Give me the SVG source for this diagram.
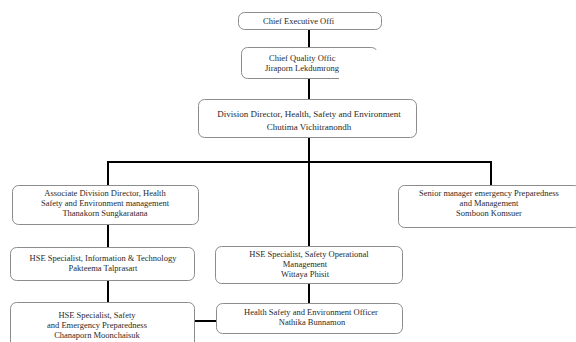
<svg xmlns="http://www.w3.org/2000/svg" width="576" height="342" viewBox="0 0 576 342">
<style>
.box{fill:#fff;stroke:#8c8c8c;stroke-width:1}
.t{font-family:"Liberation Serif","Times New Roman",serif;font-size:8.5px;fill:#2a2a2a;text-anchor:middle}
.ts{font-family:"Liberation Serif","Times New Roman",serif;font-size:8.5px;fill:#2a2a2a}
.c{stroke:#000;stroke-width:2;fill:none}
</style>
<rect width="576" height="342" fill="#fff"/>
<g id="connectors">
<line class="c" x1="309" y1="29" x2="309" y2="47"/>
<line class="c" x1="309" y1="78" x2="309" y2="99"/>
<line class="c" x1="309" y1="138" x2="309" y2="246"/>
<polyline class="c" points="108,185 108,162 491,162 491,185"/>
<line class="c" x1="108" y1="224" x2="108" y2="247"/>
<line class="c" x1="108" y1="280" x2="108" y2="302"/>
<line class="c" x1="309" y1="283" x2="309" y2="303"/>
<line class="c" x1="194" y1="321" x2="216" y2="321"/>
</g>
<g id="ceo">
<rect class="box" x="238.5" y="12.5" width="143" height="17" rx="6"/>
<text class="ts" x="263" y="24">Chief Executive Offi</text>
</g>
<g id="cqo">
<rect class="box" x="241.5" y="47.5" width="136" height="31" rx="6"/>
<text class="ts" x="269" y="61">Chief Quality Offic</text>
<text class="ts" x="265" y="71">Jiraporn Lekdumrong</text>
<rect x="339" y="50" width="44" height="36" fill="#fff"/>
</g>
<g id="division">
<rect class="box" x="198.5" y="99.5" width="218" height="38" rx="6"/>
<text class="t" x="309" y="117" style="font-size:9px">Division Director, Health, Safety and Environment</text>
<text class="t" x="309" y="130" style="font-size:9px">Chutima Vichitranondh</text>
</g>
<g id="associate">
<rect class="box" x="12.5" y="185.5" width="186" height="39" rx="6"/>
<text class="t" x="105" y="195.5">Associate Division Director, Health</text>
<text class="t" x="105" y="205.5">Safety and Environment management</text>
<text class="t" x="105" y="215.5">Thanakorn Sungkaratana</text>
</g>
<g id="senior">
<rect class="box" x="398.5" y="185.5" width="182" height="42" rx="6"/>
<text class="t" x="489" y="196">Senior manager emergency Preparedness</text>
<text class="t" x="489" y="206">and Management</text>
<text class="t" x="489" y="216">Somboon Komsuer</text>
</g>
<g id="hse-it">
<rect class="box" x="10.5" y="247.5" width="184" height="33" rx="6"/>
<text class="t" x="103" y="261">HSE Specialist, Information &amp; Technology</text>
<text class="t" x="103" y="271">Pakteema Talprasart</text>
</g>
<g id="hse-safety-op">
<rect class="box" x="215.5" y="246.5" width="187" height="37" rx="6"/>
<text class="t" x="309" y="257">HSE Specialist, Safety Operational</text>
<text class="t" x="305" y="267">Management</text>
<text class="t" x="305" y="277">Wittaya Phisit</text>
</g>
<g id="hse-safety-ep">
<rect class="box" x="10.5" y="302.5" width="184" height="46" rx="6"/>
<text class="t" x="97" y="318">HSE Specialist, Safety</text>
<text class="t" x="97" y="328">and Emergency Preparedness</text>
<text class="t" x="97" y="338">Chanaporn Moonchaisuk</text>
</g>
<g id="hse-officer">
<rect class="box" x="216.5" y="303.5" width="186" height="30" rx="6"/>
<text class="t" x="311" y="315">Health Safety and Environment Officer</text>
<text class="t" x="312" y="325">Nathika Bunnamon</text>
</g>
</svg>
